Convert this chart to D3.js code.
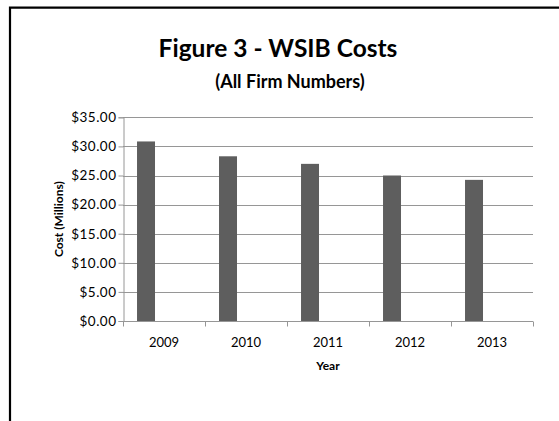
<!DOCTYPE html>
<html>
<head>
<meta charset="utf-8">
<script src="https://cdn.jsdelivr.net/npm/d3@7"></script>
<style>
  html, body { margin: 0; padding: 0; background: #fff; overflow: hidden; }
  svg { display: block; }
  text { font-family: Lato, "Open Sans", sans-serif; fill: #000; }
</style>
</head>
<body>
<svg id="chart" width="559" height="421"></svg>
<script>
// ---- data ----
const years = ["2009", "2010", "2011", "2012", "2013"];
const costs = [30.85, 28.3, 27.0, 25.0, 24.25];
const series = ["Cost", "s2", "s3"];           // Excel clustered layout: one filled series of three
const yTicks = [0, 5, 10, 15, 20, 25, 30, 35];
const title = "Figure 3 - WSIB Costs";
const subtitle = "(All Firm Numbers)";
const yTitle = "Cost (Millions)";
const xTitle = "Year";

const svg = d3.select("#chart");
const plot = { left: 123, right: 533, top: 117.3, bottom: 321 };

// frame (only top and left edges fall inside the picture)
svg.append("path")
  .attr("d", "M10,421V7.7H559")
  .attr("fill", "none").attr("stroke", "#000").attr("stroke-width", 2.2);

// titles
svg.append("text").attr("x", 278).attr("y", 56.5)
  .attr("text-anchor", "middle").attr("font-weight", "bold").attr("font-size", 24.5)
  .text(title);
svg.append("text").attr("x", 290).attr("y", 88)
  .attr("text-anchor", "middle").attr("font-weight", "bold").attr("font-size", 18)
  .text(subtitle);

const x = d3.scaleBand().domain(years).range([plot.left, plot.right]).padding(0);
const y = d3.scaleLinear().domain([0, 35]).range([plot.bottom, plot.top]);
const xs = d3.scaleBand().domain(series).range([0, x.bandwidth()])
  .paddingInner(0).paddingOuter(0.78);

const grid = "#969696";

// gridlines
svg.append("g").selectAll("line").data(yTicks.filter(d => d > 0)).join("line")
  .attr("x1", plot.left).attr("x2", plot.right)
  .attr("y1", d => Math.round(y(d)) + 0.5).attr("y2", d => Math.round(y(d)) + 0.5)
  .attr("stroke", grid).attr("stroke-width", 1);

// bars
svg.append("g").selectAll("rect").data(years).join("rect")
  .attr("x", (d) => x(d) + xs("Cost"))
  .attr("width", xs.bandwidth())
  .attr("y", (d, i) => y(costs[i]))
  .attr("height", (d, i) => y(0) - y(costs[i]))
  .attr("fill", "#5e5e5e");

// y axis
const yAxis = d3.axisLeft(y).tickValues(yTicks).tickSize(5).tickPadding(2)
  .tickFormat(d => "$" + d3.format(".2f")(d));
const gy = svg.append("g").attr("transform", `translate(${plot.left + 0.5},0)`).call(yAxis);
gy.select(".domain").attr("stroke", grid);
gy.selectAll(".tick line").attr("stroke", grid);
gy.selectAll(".tick text").attr("font-size", 13.5).attr("letter-spacing", 0.5)
  .attr("font-family", "Lato, sans-serif").attr("fill", "#000");

// x axis
const xAxis = d3.axisBottom(x).tickSize(0).tickPadding(16);
const gx = svg.append("g").attr("transform", `translate(0,${plot.bottom + 0.5})`).call(xAxis);
gx.select(".domain").attr("stroke", grid).attr("d", `M${plot.left},0H${plot.right}`);
gx.selectAll(".tick text").attr("font-size", 13)
  .attr("font-family", "Lato, sans-serif").attr("fill", "#000");
// category boundary ticks
gx.append("g").selectAll("line").data(years.concat(["end"])).join("line")
  .attr("x1", (d, i) => Math.round(plot.left + i * x.step()) + 0.5)
  .attr("x2", (d, i) => Math.round(plot.left + i * x.step()) + 0.5)
  .attr("y1", 0).attr("y2", 5)
  .attr("stroke", grid);

// axis titles
svg.append("text")
  .attr("transform", `translate(63,${(plot.top + plot.bottom) / 2}) rotate(-90)`)
  .attr("text-anchor", "middle").attr("font-weight", "bold").attr("font-size", 12)
  .text(yTitle);
svg.append("text").attr("x", (plot.left + plot.right) / 2).attr("y", 370)
  .attr("text-anchor", "middle").attr("font-weight", "bold").attr("font-size", 12)
  .text(xTitle);
</script>
</body>
</html>
